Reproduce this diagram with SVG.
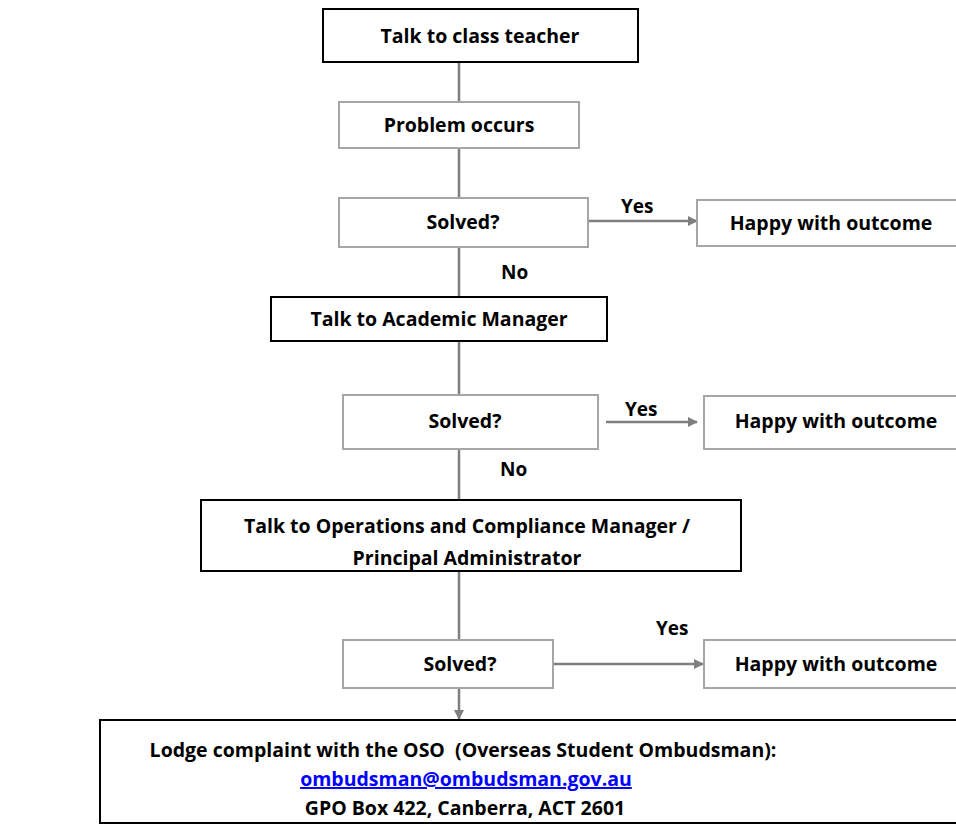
<svg xmlns="http://www.w3.org/2000/svg" width="956" height="825" viewBox="0 0 956 825">
<defs>
<marker id="ah" markerWidth="10" markerHeight="10" refX="9" refY="5" orient="auto" markerUnits="userSpaceOnUse" viewBox="0 0 10 10">
<path d="M0,0 L10,5 L0,10 Z" fill="#7f7f7f"/>
</marker>
<style>
.t{font-family:"Open Sans",Lato,"Liberation Sans",sans-serif;font-weight:bold;font-size:19.5px;fill:#000;text-anchor:middle;white-space:pre}
.lbl{font-family:"Open Sans",Lato,"Liberation Sans",sans-serif;font-weight:bold;font-size:19px;fill:#000}
.bk{fill:#fff;stroke:#000;stroke-width:2}
.gr{fill:#fff;stroke:#a6a6a6;stroke-width:2}
.ln{fill:none;stroke:#7f7f7f;stroke-width:2.5}
.ar{fill:none;stroke:#7f7f7f;stroke-width:2.5;marker-end:url(#ah)}
</style>
</defs>
<rect width="956" height="825" fill="#fff"/>
<g id="connectors">
<line class="ln" x1="459" y1="62" x2="459" y2="102"/>
<line class="ln" x1="459" y1="148" x2="459" y2="198"/>
<line class="ar" x1="588" y1="221" x2="697" y2="221"/>
<line class="ln" x1="459" y1="247" x2="459" y2="297"/>
<line class="ln" x1="459" y1="341" x2="459" y2="395"/>
<line class="ar" x1="606" y1="422" x2="697" y2="422"/>
<line class="ln" x1="459" y1="449" x2="459" y2="500"/>
<line class="ln" x1="459" y1="571" x2="459" y2="640"/>
<line class="ar" x1="553" y1="664" x2="703" y2="664"/>
<line class="ar" x1="459" y1="688" x2="459" y2="719"/>
<text class="lbl" x="621" y="213">Yes</text>
<text class="lbl" x="501" y="279">No</text>
<text class="lbl" x="625" y="416">Yes</text>
<text class="lbl" x="500" y="476">No</text>
<text class="lbl" x="656" y="635">Yes</text>
</g>
<g id="n1"><rect class="bk" x="323" y="9" width="315" height="53"/><text class="t" x="480" y="43">Talk to class teacher</text></g>
<g id="n2"><rect class="gr" x="339" y="102" width="240" height="46"/><text class="t" x="459" y="132">Problem occurs</text></g>
<g id="n3"><rect class="gr" x="339" y="198" width="249" height="49"/><text class="t" x="463" y="229">Solved?</text></g>
<g id="n4"><rect class="gr" x="697" y="200" width="262" height="46"/><text class="t" x="831" y="230">Happy with outcome</text></g>
<g id="n5"><rect class="bk" x="271" y="297" width="336" height="44"/><text class="t" x="439" y="326">Talk to Academic Manager</text></g>
<g id="n6"><rect class="gr" x="343" y="395" width="255" height="54"/><text class="t" x="465" y="428">Solved?</text></g>
<g id="n7"><rect class="gr" x="704" y="396" width="255" height="53"/><text class="t" x="836" y="428">Happy with outcome</text></g>
<g id="n8"><rect class="bk" x="201" y="500" width="540" height="71"/><text class="t" x="467" y="533">Talk to Operations and Compliance Manager /</text><text class="t" x="467" y="565">Principal Administrator</text></g>
<g id="n9"><rect class="gr" x="343" y="640" width="210" height="48"/><text class="t" x="460" y="671">Solved?</text></g>
<g id="n10"><rect class="gr" x="704" y="640" width="255" height="48"/><text class="t" x="836" y="671">Happy with outcome</text></g>
<g id="n11"><rect class="bk" x="100" y="720" width="860" height="103"/>
<text class="t" x="463" y="757">Lodge complaint with the OSO  (Overseas Student Ombudsman):</text>
<text class="t" x="466" y="786" style="fill:#0000ff;text-decoration:underline">ombudsman@ombudsman.gov.au</text>
<text class="t" x="465" y="815">GPO Box 422, Canberra, ACT 2601</text>
</g>
</svg>
